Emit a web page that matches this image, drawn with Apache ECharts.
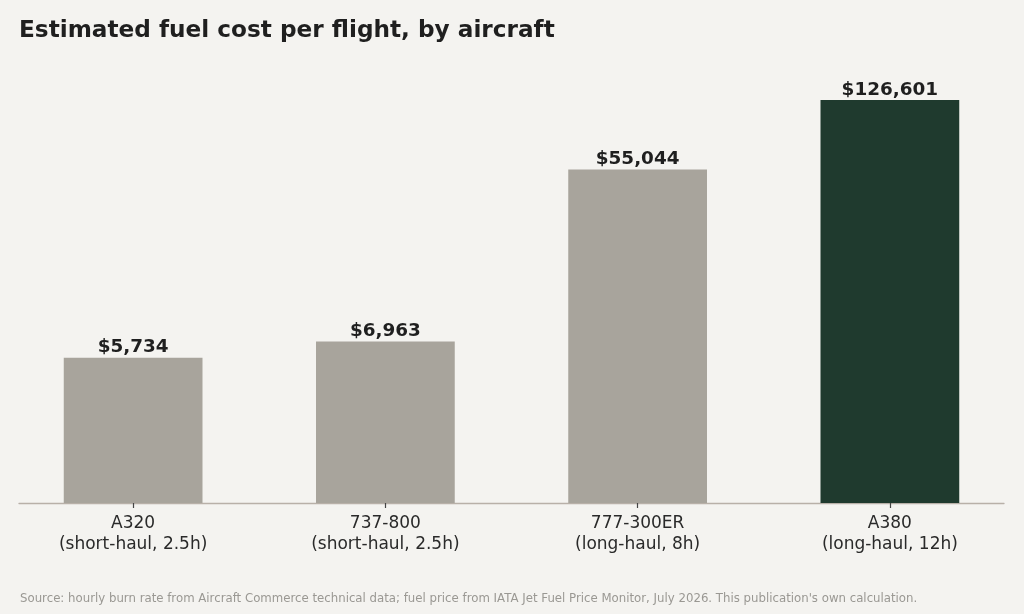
<!DOCTYPE html>
<html lang="en">
<head>
    <meta charset="UTF-8">
    <title>Estimated fuel cost per flight</title>
    <style>
        html, body { margin: 0; padding: 0; background: #f4f3f0; }
        #chart { width: 1024px; height: 614px; }
    </style>
</head>
<body>
<div id="chart"></div>
<script src="https://cdn.jsdelivr.net/npm/echarts@6/dist/echarts.min.js"></script>
<script>
    // data
    var aircraft = ['A320', '737-800', '777-300ER', 'A380']
    var routes = ['short-haul, 2.5h', 'short-haul, 2.5h', 'long-haul, 8h', 'long-haul, 12h']
    var fuelCost = [5734, 6963, 55044, 126601]

    var grey = '#a8a49c'
    var green = '#1f3a2e'
    var font = '"DejaVu Sans", Verdana, sans-serif'

    var chart = echarts.init(document.getElementById('chart'))

    var categories = aircraft.map(function (a, i) {
        return a + '\n(' + routes[i] + ')'
    })

    var option = {
        backgroundColor: '#f4f3f0',
        textStyle: { fontFamily: font },
        title: [
            {
                text: 'Estimated fuel cost per flight, by aircraft',
                left: 14,
                top: 14,
                textStyle: { fontSize: 23.2, fontWeight: 'bold', color: '#1f1f1f', fontFamily: font }
            },
            {
                text: "Source: hourly burn rate from Aircraft Commerce technical data; fuel price from IATA Jet Fuel Price Monitor, July 2026. This publication's own calculation.",
                left: 15,
                top: 588,
                textStyle: { fontSize: 11.75, fontWeight: 'normal', color: '#9a9893', fontFamily: font }
            }
        ],
        grid: [
            { left: 7, right: 8, top: 62, bottom: 111 },
            { left: 19, right: 20, top: 62, bottom: 111 }
        ],
        xAxis: [
            {
                type: 'category',
                data: categories,
                axisLine: { show: false },
                axisTick: { show: true, alignWithLabel: true, length: 5, lineStyle: { color: '#444', width: 1.2 } },
                axisLabel: { color: '#2a2a2a', fontSize: 17, lineHeight: 21, margin: 10, interval: 0, fontFamily: font }
            },
            {
                type: 'value',
                gridIndex: 1,
                min: 0,
                max: 1,
                axisLine: { show: true, lineStyle: { color: '#b8b0a8', width: 1.3 } },
                axisTick: { show: false },
                axisLabel: { show: false },
                splitLine: { show: false }
            }
        ],
        yAxis: [
            {
                type: 'log',
                logBase: 10,
                min: 1000,
                max: 200000,
                show: false,
                splitLine: { show: false }
            },
            {
                type: 'value',
                gridIndex: 1,
                show: false
            }
        ],
        series: [
            {
                type: 'bar',
                barWidth: '55%',
                data: fuelCost.map(function (v, i) {
                    return { value: v, itemStyle: { color: i === fuelCost.length - 1 ? green : grey } }
                }),
                label: {
                    show: true,
                    position: 'top',
                    distance: 1,
                    fontSize: 18.4,
                    fontWeight: 'bold',
                    color: '#1f1f1f',
                    fontFamily: font,
                    formatter: function (p) {
                        return '$' + p.value.toLocaleString('en-US')
                    }
                },
                silent: true,
                animation: false
            }
        ],
        animation: false
    }

    chart.setOption(option)
</script>
</body>
</html>
